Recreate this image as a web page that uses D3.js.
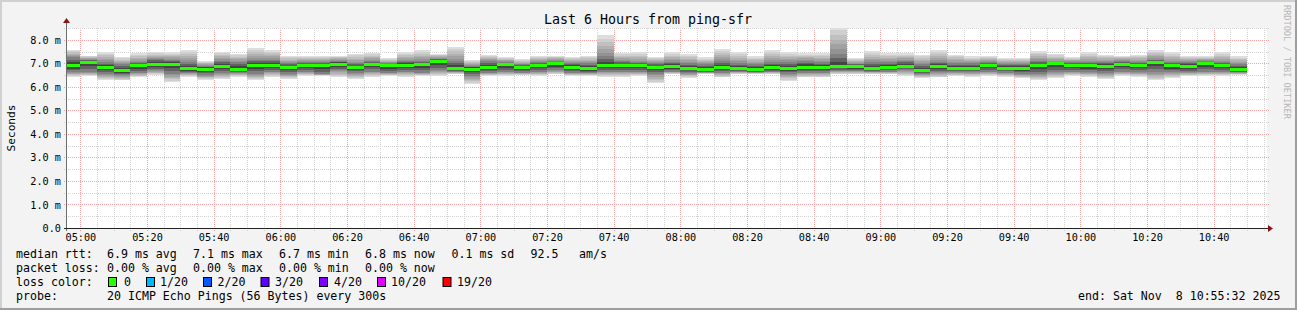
<!DOCTYPE html>
<html>
<head>
<meta charset="utf-8">
<script src="https://cdn.jsdelivr.net/npm/d3@7"></script>
<style>
  body { margin: 0; background: #f3f3f3; }
  #chart { width: 1297px; height: 310px; }
  text { font-family: "DejaVu Sans Mono", monospace; fill: #000; white-space: pre; }
</style>
</head>
<body>
<div id="chart"></div>
<script>
// Round trip values in milliseconds, one column per 5 minute step, first step starts 04:55
const medianRtt = [6.89, 7.05, 6.81, 6.70, 6.89, 6.96, 6.95, 6.77, 6.75, 6.87, 6.75, 6.91, 6.91, 6.81, 6.89, 6.89, 6.97, 6.81,
  6.95, 6.89, 6.91, 6.96, 7.06, 6.80, 6.75, 6.81, 6.94, 6.81, 6.89, 6.98, 6.84, 6.78, 6.91, 6.89, 6.91, 6.81,
  6.86, 6.79, 6.73, 6.81, 6.77, 6.73, 6.81, 6.79, 6.84, 6.81, 6.87, 6.86, 6.79, 6.83, 6.88, 6.71, 6.86, 6.79,
  6.80, 6.89, 6.80, 6.80, 6.89, 6.98, 6.91, 6.89, 6.88, 6.95, 6.91, 7.04, 6.89, 6.87, 6.98, 6.92, 6.75];
const minRtt = [6.43, 6.46, 6.30, 6.27, 6.41, 6.51, 6.21, 6.43, 6.30, 6.33, 6.43, 6.27, 6.43, 6.33, 6.47, 6.47, 6.43, 6.33,
  6.41, 6.47, 6.43, 6.47, 6.47, 6.53, 6.13, 6.47, 6.47, 6.50, 6.47, 6.53, 6.47, 6.47, 6.41, 6.41, 6.47, 6.15,
  6.54, 6.37, 6.54, 6.40, 6.54, 6.54, 6.54, 6.26, 6.40, 6.40, 6.54, 6.54, 6.54, 6.54, 6.47, 6.37, 6.40, 6.47,
  6.43, 6.47, 6.43, 6.37, 6.30, 6.36, 6.47, 6.43, 6.33, 6.47, 6.43, 6.27, 6.37, 6.47, 6.47, 6.47, 6.51];
const maxRtt = [7.57, 7.33, 7.48, 7.26, 7.43, 7.46, 7.46, 7.55, 7.09, 7.49, 7.40, 7.67, 7.57, 7.32, 7.32, 7.29, 7.32, 7.40,
  7.43, 7.22, 7.46, 7.55, 7.40, 7.71, 7.12, 7.36, 7.26, 7.18, 7.32, 7.32, 7.26, 7.32, 8.20, 7.43, 7.46, 7.26,
  7.47, 7.39, 7.25, 7.61, 7.47, 7.30, 7.56, 7.47, 7.42, 7.42, 8.60, 7.22, 7.51, 7.42, 7.42, 7.37, 7.56, 7.37,
  7.29, 7.32, 7.22, 7.22, 7.53, 7.40, 7.26, 7.46, 7.36, 7.32, 7.36, 7.57, 7.46, 7.32, 7.29, 7.46, 7.29];
// Edges of the dark middle of the smoke
const lowQuart = [6.62, 6.62, 6.55, 6.50, 6.60, 6.70, 6.55, 6.60, 6.50, 6.60, 6.60, 6.55, 6.65, 6.55, 6.65, 6.55, 6.70, 6.60,
  6.65, 6.60, 6.65, 6.60, 6.70, 6.65, 6.45, 6.60, 6.65, 6.60, 6.65, 6.70, 6.60, 6.60, 6.65, 6.65, 6.65, 6.55,
  6.65, 6.60, 6.62, 6.60, 6.65, 6.62, 6.65, 6.55, 6.60, 6.60, 6.68, 6.68, 6.65, 6.65, 6.70, 6.55, 6.62, 6.62,
  6.62, 6.65, 6.60, 6.55, 6.55, 6.62, 6.65, 6.62, 6.58, 6.65, 6.62, 6.62, 6.62, 6.62, 6.65, 6.65, 6.62];
const highQuart = [7.25, 7.15, 7.05, 6.95, 7.05, 7.20, 7.15, 7.05, 6.90, 7.10, 7.05, 7.15, 7.15, 7.00, 7.05, 7.05, 7.10, 7.00,
  7.10, 7.00, 7.10, 7.10, 7.20, 7.10, 6.90, 7.10, 7.05, 6.95, 7.05, 7.10, 7.00, 7.00, 7.30, 7.10, 7.05, 7.00,
  7.05, 7.00, 6.95, 7.10, 7.00, 6.95, 7.05, 7.05, 7.10, 7.05, 7.40, 6.98, 7.05, 7.05, 7.10, 6.95, 7.05, 7.00,
  7.00, 7.05, 6.98, 6.98, 7.10, 7.05, 7.05, 7.05, 7.05, 7.10, 7.05, 7.15, 7.05, 7.05, 7.10, 7.05, 6.95];

const firstStep = '04:55';
const timeRange = ['04:56', '10:56'];
const xTickLabels = ['05:00', '05:20', '05:40', '06:00', '06:20', '06:40', '07:00', '07:20', '07:40',
  '08:00', '08:20', '08:40', '09:00', '09:20', '09:40', '10:00', '10:20', '10:40'];
const yTickValues = [0, 1, 2, 3, 4, 5, 6, 7, 8];
const yGridValues = [0.5, 1, 1.5, 2, 2.5, 3, 3.5, 4, 4.5, 5, 5.5, 6, 6.5, 7, 7.5, 8, 8.5];
const lossLabels = ['0', '1/20', '2/20', '3/20', '4/20', '10/20', '19/20'];
const lossColors = ['#26ff00', '#00b8ff', '#0059ff', '#5e00ff', '#7e00ff', '#dd00ff', '#ff0000'];

/* Draws a smokeping style graph inside the given element
*/
class SmokeGraph {
  constructor(elemName) {
    this.svg = d3.select(elemName).append('svg')
      .attr('width', 1297)
      .attr('height', 310);
    this.margin = { left: 67, top: 28, right: 30, bottom: 82 };
    this.width = 1200;
    this.height = 200;
  }

  draw() {
    const svg = this.svg;
    const m = this.margin;
    const parse = d3.timeParse('%H:%M');

    // canvas with the rrdtool bevel
    svg.append('rect').attr('width', 1297).attr('height', 310).attr('fill', '#f3f3f3');
    svg.append('path').attr('d', 'M1,310 V1 H1297').attr('fill', 'none')
      .attr('stroke', '#d0d0d0').attr('stroke-width', 2);
    svg.append('path').attr('d', 'M0,309 H1296 V0').attr('fill', 'none')
      .attr('stroke', '#9e9e9e').attr('stroke-width', 2);

    const x = d3.scaleTime()
      .domain(timeRange.map(parse))
      .range([m.left, m.left + this.width]);
    const y = d3.scaleLinear()
      .domain([0, 8.5])
      .range([m.top + this.height, m.top]);

    svg.append('rect')
      .attr('x', m.left).attr('y', m.top)
      .attr('width', this.width).attr('height', this.height)
      .attr('fill', '#fff');

    // grid lines
    const grid = svg.append('g').attr('class', 'grid').attr('shape-rendering', 'crispEdges');
    const minorTimes = d3.timeMinute.every(5).range(parse('05:00'), x.domain()[1]);
    grid.selectAll('.vgrid').data(minorTimes).join('line')
      .attr('x1', d => Math.round(x(d)) + 0.5).attr('x2', d => Math.round(x(d)) + 0.5)
      .attr('y1', m.top).attr('y2', m.top + this.height + 3)
      .attr('stroke', d => d.getMinutes() % 20 === 0 ? '#f5a3a3' : '#d2d2d2')
      .attr('stroke-dasharray', '1,1');
    grid.selectAll('.hgrid').data(yGridValues).join('line')
      .attr('x1', m.left - 3).attr('x2', m.left + this.width + 3)
      .attr('y1', d => Math.round(y(d)) + 0.5).attr('y2', d => Math.round(y(d)) + 0.5)
      .attr('stroke', d => d % 1 === 0 ? '#f5a3a3' : '#d2d2d2')
      .attr('stroke-dasharray', '1,1');

    // smoke and median, clipped to the plot
    svg.append('clipPath').attr('id', 'plotclip').append('rect')
      .attr('x', m.left).attr('y', m.top).attr('width', this.width).attr('height', this.height);
    const plot = svg.append('g').attr('clip-path', 'url(#plotclip)').attr('shape-rendering', 'crispEdges');

    const start = parse(firstStep);
    const cols = medianRtt.map((med, i) => ({
      t0: d3.timeMinute.offset(start, i * 5),
      t1: d3.timeMinute.offset(start, i * 5 + 5),
      med, lo: minRtt[i], hi: maxRtt[i], q1: lowQuart[i], q3: highQuart[i]
    }));

    // bands go from the outside in, getting darker
    const bands = [];
    const outer = d3.interpolateRgb('#dedede', '#939393');
    const inner = d3.interpolateRgb('#808080', '#444444');
    for (let k = 0; k < 6; k++) {
      bands.push({ color: outer(k / 5),
        lo: c => c.lo + (c.q1 - c.lo) * k / 6, hi: c => c.hi + (c.q3 - c.hi) * k / 6 });
    }
    for (let k = 0; k < 3; k++) {
      bands.push({ color: inner(k / 2),
        lo: c => c.q1 + (c.med - 0.04 - c.q1) * k / 3, hi: c => c.q3 + (c.med + 0.04 - c.q3) * k / 3 });
    }
    bands.forEach(b => {
      plot.append('g').selectAll('rect').data(cols).join('rect')
        .attr('x', d => x(d.t0)).attr('width', d => x(d.t1) - x(d.t0))
        .attr('y', d => y(b.hi(d))).attr('height', d => y(b.lo(d)) - y(b.hi(d)))
        .attr('fill', b.color);
    });
    plot.append('g').selectAll('rect').data(cols).join('rect')
      .attr('x', d => x(d.t0)).attr('width', d => x(d.t1) - x(d.t0))
      .attr('y', d => y(d.med) - 1.5).attr('height', 3)
      .attr('fill', lossColors[0]);

    // axes
    const yAxis = svg.append('g')
      .attr('transform', `translate(${m.left - 4},0)`)
      .call(d3.axisLeft(y).tickValues(yTickValues).tickSize(0).tickPadding(2)
        .tickFormat(d => d === 0 ? '0.0' : d.toFixed(1) + ' m'));
    yAxis.select('.domain').remove();
    yAxis.selectAll('text').style('font-size', '10.2px').attr('dy', '0.35em');

    const xAxis = svg.append('g')
      .attr('transform', `translate(0,${m.top + this.height})`)
      .call(d3.axisBottom(x).tickValues(xTickLabels.map(parse)).tickSize(0).tickPadding(5)
        .tickFormat(d3.timeFormat('%H:%M')));
    xAxis.select('.domain').remove();
    xAxis.selectAll('text').style('font-size', '10.2px').attr('dy', '0.8em');

    const axisLines = svg.append('g').attr('shape-rendering', 'crispEdges');
    axisLines.append('line')
      .attr('x1', m.left - 0.5).attr('x2', m.left - 0.5)
      .attr('y1', m.top + this.height + 3).attr('y2', m.top - 6)
      .attr('stroke', '#6e6e6e');
    axisLines.append('line')
      .attr('x1', m.left - 3).attr('x2', m.left + this.width + 3)
      .attr('y1', m.top + this.height + 0.5).attr('y2', m.top + this.height + 0.5)
      .attr('stroke', '#222');
    svg.append('path')
      .attr('d', `M${m.left - 4},${m.top - 5} L${m.left + 3},${m.top - 5} L${m.left - 0.5},${m.top - 10} Z`)
      .attr('fill', '#8b1515');
    svg.append('path')
      .attr('d', `M${m.left + this.width + 1},${m.top + this.height - 3} L${m.left + this.width + 1},${m.top + this.height + 4} L${m.left + this.width + 6},${m.top + this.height + 0.5} Z`)
      .attr('fill', '#8b1515');

    // titles
    svg.append('text')
      .attr('x', 648).attr('y', 24)
      .attr('text-anchor', 'middle')
      .style('font-size', '13.3px')
      .text('Last 6 Hours from ping-sfr');
    svg.append('text')
      .attr('transform', 'translate(15,128) rotate(-90)')
      .attr('text-anchor', 'middle')
      .style('font-size', '11.2px')
      .text('Seconds');
    svg.append('text')
      .attr('transform', 'translate(1284,5) rotate(90)')
      .style('font-size', '8.6px')
      .style('fill', '#b8b8b8')
      .text('RRDTOOL / TOBI OETIKER');

    this.legend();
  }

  /* Legend lines under the plot
  */
  legend() {
    const svg = this.svg;
    const g = svg.append('g').style('font-size', '11.6px');
    const row = (yPos, items) => items.forEach(([xPos, txt]) =>
      g.append('text').attr('x', xPos).attr('y', yPos).text(txt));

    row(258, [[16, 'median rtt:'], [107, '6.9 ms avg'], [193, '7.1 ms max'], [279, '6.7 ms min'],
      [365, '6.8 ms now'], [451.5, '0.1 ms sd'], [530.5, '92.5'], [579, 'am/s']]);
    row(272, [[16, 'packet loss:'], [107, '0.00 % avg'], [193, '0.00 % max'], [279, '0.00 % min'],
      [365, '0.00 % now']]);
    row(286, [[16, 'loss color:']]);
    row(300, [[16, 'probe:'], [107, '20 ICMP Echo Pings (56 Bytes) every 300s'], [1078, 'end: Sat Nov  8 10:55:32 2025']]);

    const boxX = [108.5, 146.5, 203.5, 261, 319.5, 377.5, 443];
    const labelX = [124, 160, 217.5, 275, 334, 391, 457];
    lossLabels.forEach((lab, i) => {
      g.append('rect')
        .attr('x', boxX[i]).attr('y', 277.5).attr('width', 8).attr('height', 9)
        .attr('fill', lossColors[i]).attr('stroke', '#000');
      g.append('text').attr('x', labelX[i]).attr('y', 286).text(lab);
    });
  }
}

const graph = new SmokeGraph('#chart');
graph.draw();
</script>
</body>
</html>
